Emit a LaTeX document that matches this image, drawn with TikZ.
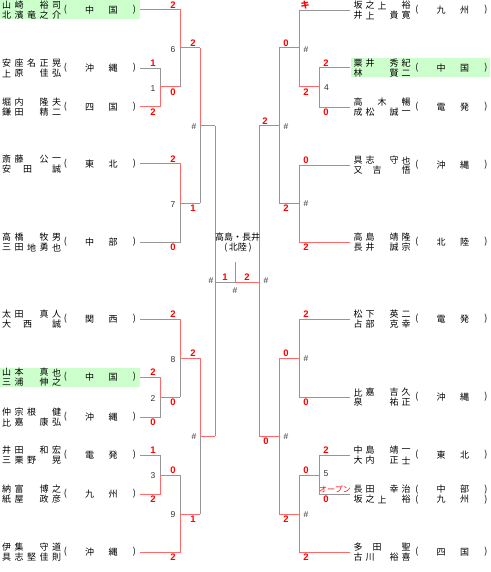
\documentclass[tikz,border=0pt]{standalone}
\usepackage{fontspec}
\setmainfont{Liberation Sans}
\newfontfamily\jp{Noto Sans CJK JP}
\definecolor{wr}{RGB}{255,105,105}
\definecolor{lg}{RGB}{150,150,150}
\definecolor{hl}{RGB}{204,255,204}
\definecolor{sred}{RGB}{255,0,0}
\newcommand\nameline[4]{\foreach \pp/\cc in {#4} \node[ch] at ({#1+#3*\pp},{#2}) {\cc};}
\newcommand\prefline[4]{%
  \node[ch] at ({#1+59},{#2}) {(};
  \node[ch] at ({#1+83},{#2}) {#3};
  \node[ch] at ({#1+106.5},{#2}) {#4};
  \node[ch] at ({#1+128},{#2}) {)};}
\newcommand\team[7]{%
  \nameline{#1}{#2-4.5}{#3}{#4}
  \nameline{#1}{#2+5.5}{#3}{#5}
  \prefline{#1}{#2}{#6}{#7}}
\begin{document}
\begin{tikzpicture}[x=1pt,y=-1pt,
  win/.style={draw=wr,line width=1pt},
  lose/.style={draw=lg,line width=0.8pt},
  ch/.style={font=\jp\fontsize{9}{9}\selectfont,inner sep=0},
  sc/.style={font=\fontsize{9.5}{9.5}\selectfont\bfseries,text=sred,inner sep=0},
  lb/.style={font=\fontsize{8.5}{8.5}\selectfont,text=black!80,inner sep=0},
  hlbox/.style={fill=hl,draw=none}]
\useasboundingbox (0,0) rectangle (490,572);
\fill[white] (0,0) rectangle (490,572);
% highlights
\fill[hlbox] (0,0.5) rectangle (140,19.5);
\fill[hlbox] (0,367.5) rectangle (140,386.5);
\fill[hlbox] (351,58.5) rectangle (490,77.5);
% ---------- teams left ----------
\team{6.5}{10}{12.5}{0/山,1/崎,3/裕,4/司}{0/北,1/濱,2/竜,3/之,4/介}{中}{国}
\team{6.5}{68}{12.5}{0/安,1/座,2/名,3/正,4/晃}{0/上,1/原,3/佳,4/弘}{沖}{縄}
\team{6.5}{107}{12.5}{0/堀,1/内,3/隆,4/夫}{0/鎌,1/田,3/精,4/二}{四}{国}
\team{6.5}{164}{12.5}{0/斎,1/藤,3/公,4/一}{0/安,1.7/田,4/誠}{東}{北}
\team{6.5}{242}{12.5}{0/高,1/橋,3/牧,4/男}{0/三,1/田,2/地,3/勇,4/也}{中}{部}
\team{6.5}{319}{12.5}{0/太,1/田,3/真,4/人}{0/大,1.7/西,4/誠}{関}{西}
\team{6.5}{377}{12.5}{0/山,1/本,3/真,4/也}{0/三,1/浦,3/伸,4/之}{中}{国}
\team{6.5}{417}{12.5}{0/仲,1/宗,2/根,4/健}{0/比,1/嘉,3/康,4/弘}{沖}{縄}
\team{6.5}{455}{12.5}{0/井,1/田,3/和,4/宏}{0/三,1/栗,2/野,4/晃}{電}{発}
\team{6.5}{494}{12.5}{0/納,1/富,3/博,4/之}{0/紙,1/屋,3/政,4/彦}{九}{州}
\team{6.5}{552}{12.5}{0/伊,1/集,3/守,4/道}{0/具,1/志,2/堅,3/佳,4/則}{沖}{縄}
% ---------- teams right ----------
\team{358}{10}{12}{0/坂,1/之,2/上,4/裕}{0/井,1/上,3/貴,4/寛}{九}{州}
\team{358}{68}{12}{0/粟,1/井,3/秀,4/紀}{0/林,3/賢,4/二}{中}{国}
\team{358}{107}{12}{0/高,2/木,4/暢}{0/成,1/松,3/誠,4/一}{電}{発}
\team{358}{165}{12}{0/具,1/志,3/守,4/也}{0/又,1.6/吉,4/悟}{沖}{縄}
\team{358}{242}{12}{0/高,1/島,3/靖,4/隆}{0/長,1/井,3/誠,4/宗}{北}{陸}
\team{358}{319}{12}{0/松,1/下,3/英,4/二}{0/占,1/部,3/克,4/幸}{電}{発}
\team{358}{397}{12}{0/比,1/嘉,3/吉,4/久}{0/泉,3/祐,4/正}{沖}{縄}
\team{358}{455}{12}{0/中,1/島,3/靖,4/一}{0/大,1/内,3/正,4/士}{東}{北}
\nameline{358}{489.5}{12}{0/長,1/田,3/幸,4/治}
\prefline{358}{489.5}{中}{部}
\nameline{358}{499.5}{12}{0/坂,1/之,2/上,4/裕}
\prefline{358}{499.5}{九}{州}
\team{358}{552}{12}{0/多,1.6/田,4/聖}{0/古,1/川,3/裕,4/喜}{四}{国}
% ---------- coordinates ----------
\foreach \n/\y in {1/10,2/68,3/107,4/164,5/242,6/319,7/377,8/417,9/455,10/494,11/552}
  \coordinate (tL\n) at (140,\y);
\foreach \n/\y in {1/10,2/68,3/107,4/165,5/242,6/319,7/397,8/455,9/494,10/552}
  \coordinate (tR\n) at (350,\y);
% left junctions / outs
\coordinate (j1) at (160,87);  \coordinate (o1) at (180,87);
\coordinate (j2) at (160,397); \coordinate (o2) at (180,397);
\coordinate (j3) at (160,475); \coordinate (o3) at (180,475);
\coordinate (j6) at (180,48);  \coordinate (o6) at (200,48);
\coordinate (j7) at (180,203); \coordinate (o7) at (200,203);
\coordinate (j8) at (180,358); \coordinate (o8) at (200,358);
\coordinate (j9) at (180,514); \coordinate (o9) at (200,514);
\coordinate (jA) at (200,126); \coordinate (oA) at (215,126);
\coordinate (jB) at (200,436); \coordinate (oB) at (215,436);
\coordinate (jSL) at (215,282);
\coordinate (jF) at (235,282); \coordinate (fstub) at (235,262);
% right junctions / outs
\coordinate (j4) at (319,87);  \coordinate (o4) at (299,87);
\coordinate (j5) at (319,475); \coordinate (o5) at (299,475);
\coordinate (k1) at (299,48);  \coordinate (p1) at (279,48);
\coordinate (k2) at (299,203); \coordinate (p2) at (279,203);
\coordinate (k3) at (299,358); \coordinate (p3) at (279,358);
\coordinate (k4) at (299,514); \coordinate (p4) at (279,514);
\coordinate (kA) at (279,126); \coordinate (pA) at (259,126);
\coordinate (kB) at (279,436); \coordinate (pB) at (259,436);
\coordinate (jSR) at (259,282);
% ---------- connectors left ----------
\draw[lose] (tL2) -| (j1); \draw[win] (tL3) -| (j1) -- (o1);
\draw[win] (tL7) -| (j2) -- (o2); \draw[lose] (tL8) -| (j2);
\draw[lose] (tL9) -| (j3); \draw[win] (tL10) -| (j3) -- (o3);
\draw[win] (tL1) -| (j6) -- (o6); \draw[lose] (o1) -- (j6);
\draw[win] (tL4) -| (j7) -- (o7); \draw[lose] (tL5) -| (j7);
\draw[win] (tL6) -| (j8) -- (o8); \draw[lose] (o2) -- (j8);
\draw[lose] (o3) -- (j9); \draw[win] (tL11) -| (j9) -- (o9);
\draw[win] (o6) -- (jA) -- (oA); \draw[lose] (o7) -- (jA);
\draw[win] (o8) -- (jB) -- (oB); \draw[lose] (o9) -- (jB);
\draw[lose] (oA) -- (jSL); \draw[win] (oB) -- (jSL);
\draw[lose] (jSL) -- (jF);
% ---------- connectors right ----------
\draw[win] (tR2) -| (j4) -- (o4); \draw[lose] (tR3) -| (j4);
\draw[win] (tR8) -| (j5) -- (o5); \draw[lose] (tR9) -| (j5);
\draw[lose] (tR1) -| (k1); \draw[win] (o4) -- (k1) -- (p1);
\draw[lose] (tR4) -| (k2); \draw[win] (tR5) -| (k2) -- (p2);
\draw[win] (tR6) -| (k3) -- (p3); \draw[lose] (tR7) -| (k3);
\draw[lose] (o5) -- (k4); \draw[win] (tR10) -| (k4) -- (p4);
\draw[lose] (p1) -- (kA); \draw[win] (p2) -- (kA) -- (pA);
\draw[lose] (p3) -- (kB); \draw[win] (p4) -- (kB) -- (pB);
\draw[win] (pA) -- (jSR) -- (jF); \draw[lose] (pB) -- (jSR);
\draw[win] (jF) -- (fstub);
% ---------- scores ----------
\foreach \x/\y/\s in {173/5.5/2,153/63.5/1,153/112.5/2,173/92.5/0,193/43.5/2,
  173/159.5/2,173/247.5/0,193/208.5/1,225/277.5/1,247/277.5/2,
  173/314.5/2,193/353.5/2,153/372.5/2,173/402.5/0,153/422.5/0,
  153/450.5/1,173/470.5/0,153/499.5/2,193/519.5/1,173/557.5/2,
  286/43.5/0,326/63.5/2,306/92.5/2,326/112.5/0,265/121.5/2,
  306/160.5/0,286/208.5/2,306/247.5/2,306/314.5/2,286/353.5/0,
  306/402.5/0,266/441.5/0,326/450.5/2,306/470.5/0,326/499.5/0,
  286/519.5/2,306/557.5/2}
  \node[sc] at (\x,\y) {\s};
\node[sc,font=\jp\fontsize{9}{9}\selectfont\bfseries] (sk) at (305,5) {キ};
\node[ch,text=sred,font=\jp\fontsize{8}{8}\selectfont] (open) at (335,489.5) {オープン};
% ---------- match labels ----------
\foreach \x/\y/\s in {173/50/6,153/88.5/1,173/204.5/7,173/360/8,153/398.5/2,
  153/475.5/3,173/514.5/9,326.5/88/4,326/474/5,
  194/126.5/\#,194/436.5/\#,211/281/\#,235/291/\#,266/281/\#,
  306/49.5/\#,286/127/\#,306/204/\#,306/359/\#,286/437/\#,306/514.5/\#}
  \node[lb] at (\x,\y) {\s};
% ---------- champion ----------
\node[ch] (champ) at (237.5,237.5) {高島・長井};
\node[ch] (champp) at (238,248) {(\,北陸\,)};
\end{tikzpicture}
\end{document}
